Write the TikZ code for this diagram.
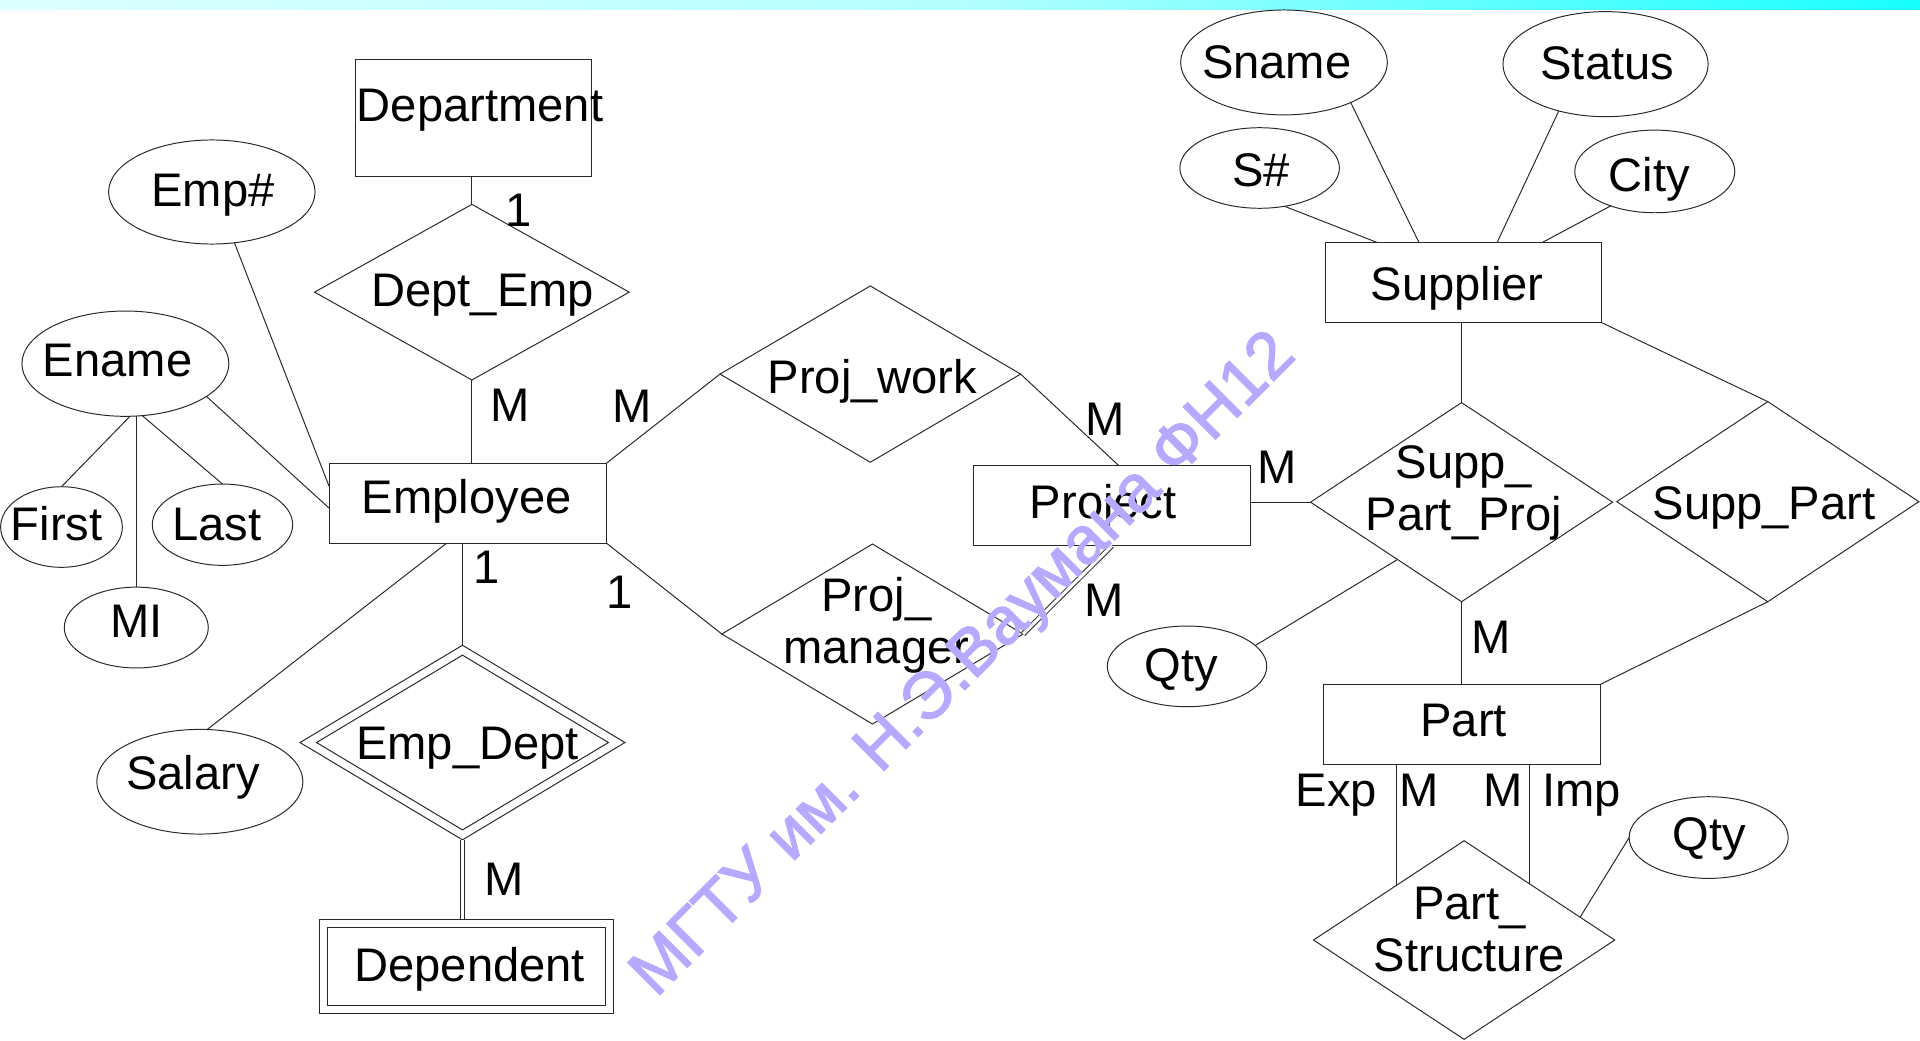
\documentclass[tikz,border=0pt]{standalone}
\usepackage{fontspec}
\setmainfont{Liberation Sans}
\newfontfamily\wmfont[FakeBold=2]{Liberation Sans}
\usetikzlibrary{shapes.geometric,calc}
\definecolor{wmcol}{RGB}{184,168,255}
\definecolor{barL}{RGB}{222,255,255}
\definecolor{barM}{RGB}{180,255,255}
\definecolor{barR}{RGB}{24,255,255}
\definecolor{ln}{RGB}{40,40,40}
\begin{document}
\begin{tikzpicture}[x=1pt,y=-1pt,
  every node/.style={inner sep=0pt,outer sep=0pt},
  lk/.style={draw=ln,line width=0.8pt},
  ent/.style={rectangle,lk},
  attr/.style={ellipse,lk},
  rel/.style={diamond,lk},
  txt/.style={font=\fontsize{38.5}{42.5}\selectfont,text height=27.6pt,text depth=0pt},
  txttwo/.style={font=\fontsize{38.5}{42.5}\selectfont,align=center},
  con/.style={draw=ln,line width=0.8pt},
  dbl/.style={draw=ln,line width=0.8pt,double=white,double distance=2.6pt},
  wm/.style={font=\wmfont\fontsize{54}{60}\selectfont,text=wmcol,text height=38.7pt,text depth=0pt}
]
\fill[white] (0,0) rectangle (1568,850);
\useasboundingbox (0,0) rectangle (1568,850);
\shade[left color=barL,right color=barR,middle color=barM] (0,0) rectangle (1568,7.6);

% ---------- shapes ----------
\node[ent,minimum width=192.5pt,minimum height=95.8pt] (dept) at (386.75,96.1) {};
\node[attr,minimum width=168.6pt,minimum height=85pt] (empno) at (173,156.8) {};
\node[rel,minimum width=257pt,minimum height=143.4pt] (deptemp) at (385.4,238.6) {};
\node[attr,minimum width=169pt,minimum height=86pt] (ename) at (102.4,297) {};
\node[attr,minimum width=99.4pt,minimum height=65.8pt] (first) at (50.2,430.4) {};
\node[attr,minimum width=114.6pt,minimum height=66.4pt] (last) at (181.7,428.5) {};
\node[attr,minimum width=117.6pt,minimum height=66pt] (mi) at (111.3,512.5) {};
\node[ent,minimum width=226.7pt,minimum height=65.5pt] (emp) at (382.05,410.95) {};
\node[attr,minimum width=168.3pt,minimum height=85.5pt] (salary) at (163.2,638.4) {};
\node[rel,minimum width=265.4pt,minimum height=158.9pt] (empdept) at (377.7,606.4) {};
\node[rel,minimum width=238.4pt,minimum height=142.7pt] (empdeptin) at (377.7,606.4) {};
\node[ent,minimum width=240.1pt,minimum height=77pt] (dep) at (380.85,789.2) {};
\node[ent,minimum width=226.5pt,minimum height=63.4pt] (depin) at (380.85,789.2) {};
\node[rel,minimum width=245.5pt,minimum height=144pt] (pwork) at (710.75,305.5) {};
\node[rel,minimum width=246pt,minimum height=147pt] (pman) at (712.5,517.8) {};
\node[ent,minimum width=226.4pt,minimum height=65.6pt] (proj) at (908.2,412.8) {};
\node[attr,minimum width=130.2pt,minimum height=65.9pt] (qtya) at (969.4,544.2) {};
\node[ent,minimum width=225.7pt,minimum height=65.3pt] (supp) at (1195.15,230.85) {};
\node[attr,minimum width=168.8pt,minimum height=85.7pt] (sname) at (1048.6,51) {};
\node[attr,minimum width=167.6pt,minimum height=85.8pt] (status) at (1311.2,52.4) {};
\node[attr,minimum width=130.3pt,minimum height=65.8pt] (sno) at (1028.7,137.2) {};
\node[attr,minimum width=130.7pt,minimum height=67.5pt] (city) at (1351.4,140) {};
\node[rel,minimum width=246.7pt,minimum height=162.6pt] (spp) at (1193.6,410.1) {};
\node[rel,minimum width=246.7pt,minimum height=163.4pt] (sp) at (1443.7,409.7) {};
\node[ent,minimum width=226.3pt,minimum height=65.3pt] (part) at (1193.85,591.55) {};
\node[rel,minimum width=246pt,minimum height=162.2pt] (ps) at (1195.7,767.7) {};
\node[attr,minimum width=129.9pt,minimum height=66.7pt] (qtyb) at (1395.4,684) {};

% ---------- connectors ----------
\draw[con] (deptemp.north |- dept.south) -- (deptemp.north);
\draw[con] (deptemp.south) -- (deptemp.south |- emp.north);
\draw[con] (empno.-66.7) -- (emp.173.5);
\draw[con] (ename.-22.6) -- (emp.182.8);
\draw[con] (ename.-85.2) -- (first.north);
\draw[con] (mi.north |- ename.south) -- (mi.north);
\draw[con] (ename.-72) -- (last.north);
\draw[con] (salary.82.6) -- (emp.242.4);
\draw[con] (empdept.north |- emp.south) -- (empdept.north);
\draw[dbl] (empdept.south) -- (empdept.south |- dep.north);
\draw[con] (emp.north east) -- (pwork.west);
\draw[con] (emp.south east) -- (pman.west);
\draw[con] (pwork.east) -- (proj.81.2);
\draw[dbl] (pman.east) -- (proj.south);
\draw[con] (spp.west -| proj.east) -- (spp.west);
\draw[con] (spp.north |- supp.south) -- (spp.north);
\draw[con] (supp.south east) -- (sp.north);
\draw[con] (spp.south) -- (spp.south |- part.north);
\draw[con] (sp.south) -- (part.north east);
\coordinate (sppq) at ($(spp.west)!0.576!(spp.south)$);
\draw[con] (qtya.17) -- (sppq);
\draw[con] (sno.-57.8) -- (supp.155);
\draw[con] (sname.-31.4) -- (supp.138.2);
\draw[con] (status.-135.6) -- (supp.50.9);
\draw[con] (city.-142.3) -- (supp.27.7);
\coordinate (psl) at ($(ps.west)!0.551!(ps.north)$);
\coordinate (psr) at ($(ps.north)!0.437!(ps.east)$);
\coordinate (psq) at ($(ps.north)!0.77!(ps.east)$);
\draw[con] (psl |- part.south) -- (psl);
\draw[con] (psr |- part.south) -- (psr);
\draw[con] (qtyb.west) -- (psq);

% ---------- texts ----------
\node[txt] (dept-t) at (392,85.8) {Department};
\node[txt] (empno-t) at (174,155.2) {Emp\#};
\node[txt] (deptemp-t) at (394.2,236.8) {Dept\_Emp};
\node[txt] (ename-t) at (96,294) {Ename};
\node[txt] (first-t) at (46.3,427.4) {First};
\node[txt] (last-t) at (176.9,427.4) {Last};
\node[txt] (mi-t) at (111.6,507) {MI};
\node[txt] (emp-t) at (381.1,405.4) {Employee};
\node[txt] (salary-t) at (157.7,630.6) {Salary};
\node[txt] (empdept-t) at (381.8,606.4) {Emp\_Dept};
\node[txt] (dep-t) at (383.6,788) {Dependent};
\node[txt] (pwork-t) at (712.5,307.6) {Proj\_work};
\node[txttwo] (pman-t) at (715.6,510.9) {Proj\_\\manager};
\node[txt] (proj-t) at (901,409.7) {Project};
\node[txt] (qtya-t) at (965,542.4) {Qty};
\node[txt] (supp-t) at (1190,231.4) {Supplier};
\node[txt] (sname-t) at (1042.7,50) {Sname};
\node[txt] (status-t) at (1312.6,51) {Status};
\node[txt] (sno-t) at (1029.8,138.3) {S\#};
\node[txt] (city-t) at (1347.1,142.2) {City};
\node[txttwo] (spp-t) at (1195.5,402.5) {Supp\_\\Part\_Proj};
\node[txt] (sp-t) at (1440.6,410.4) {Supp\_Part};
\node[txt] (part-t) at (1195.3,587.3) {Part};
\node[txttwo] (ps-t) at (1200,759.2) {Part\_\\Structure};
\node[txt] (qtyb-t) at (1396.2,680.6) {Qty};

% ---------- cardinalities ----------
\node[txt] (c1) at (423.3,170.8) {1};
\node[txt] (c2) at (416.8,330.7) {M};
\node[txt] (c3) at (516.5,331.5) {M};
\node[txt] (c4) at (397.5,463) {1};
\node[txt] (c5) at (506.3,483.5) {1};
\node[txt] (c6) at (411.7,717.8) {M};
\node[txt] (c7) at (902.3,341.7) {M};
\node[txt] (c8) at (901.7,490) {M};
\node[txt] (c9) at (1042.6,381.1) {M};
\node[txt] (c10) at (1218,520) {M};
\node[txt] (c11) at (1091.2,644.5) {Exp};
\node[txt] (c12) at (1159.1,644.5) {M};
\node[txt] (c13) at (1227.5,644.5) {M};
\node[txt] (c14) at (1291.7,644.5) {Imp};

% ---------- watermark ----------
\node[wm,rotate=45] (wm) at (784,540) {МГТУ им. Н.Э.Ваумана ФН12};
\end{tikzpicture}
\end{document}
